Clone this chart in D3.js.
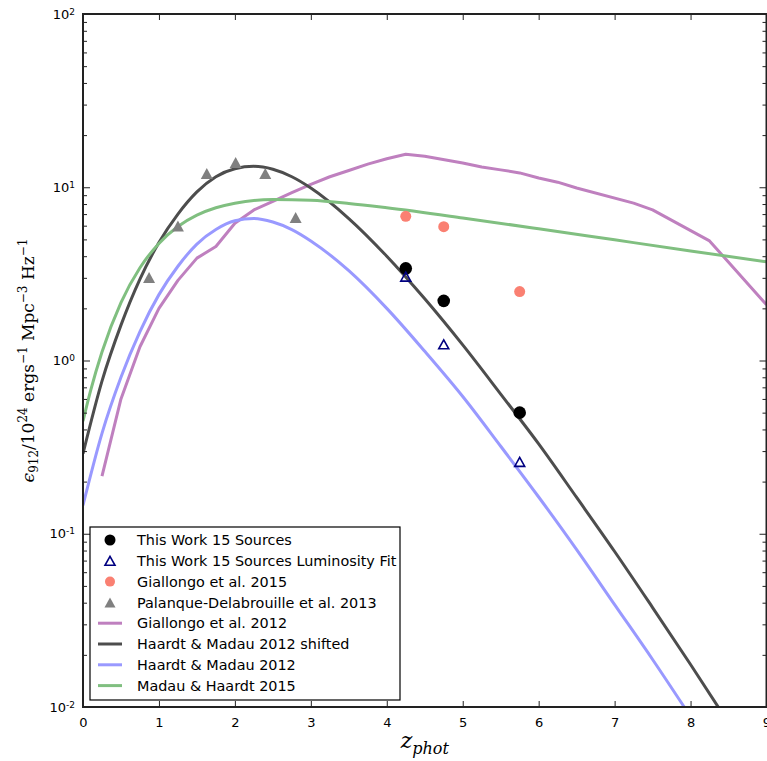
<!DOCTYPE html>
<html>
<head>
<meta charset="utf-8">
<script src="https://cdn.jsdelivr.net/npm/d3@7"></script>
<style>
body { margin: 0; background: #fff; }
svg { display: block; font-family: "DejaVu Sans", sans-serif; }
</style>
</head>
<body>
<svg id="chart" width="767" height="761"></svg>
<script>
// values, epsilon_912 in units of 1e24 erg/s/Mpc^3/Hz
const thisWorkZ = [4.25, 4.75, 5.75];
const thisWorkEps = [3.40, 2.21, 0.50];
const lumFitEps = [3.05, 1.24, 0.26];
const giallongo15Eps = [6.8, 5.92, 2.50];

const palanqueZ = [0.87, 1.25, 1.63, 2.01, 2.40, 2.80];
const palanqueEps = [3.01, 5.97, 12.0, 13.9, 12.0, 6.7];

const giallongo12Z = [0.25, 0.5, 0.75, 1.0, 1.25, 1.5, 1.75, 2.0, 2.25, 2.5, 2.75, 3.0, 3.25, 3.5, 3.75,
    4.0, 4.25, 4.5, 5.0, 5.25, 5.5, 5.75, 6.0, 6.25, 6.5, 7.25, 7.5, 8.25, 9.0];
const giallongo12Eps = [0.215, 0.60, 1.2, 2.0, 2.9, 3.9, 4.55, 6.2, 7.4, 8.3, 9.3, 10.4, 11.5, 12.5, 13.6,
    14.6, 15.5, 15.1, 13.8, 13.1, 12.6, 12.1, 11.3, 10.7, 9.9, 8.1, 7.4, 4.9, 2.1];

const hmZ = [0, 0.25, 0.5, 0.75, 1, 1.25, 1.5, 1.75, 2, 2.25, 2.5, 2.75, 3, 3.5, 4, 4.5, 5, 5.5, 6, 6.5, 7, 7.5, 8, 8.5];
const hmShiftedEps = [0.29, 0.76, 1.6, 2.95, 4.8, 7.0, 9.4, 11.5, 12.8, 13.2, 12.7, 11.5, 9.9, 6.6, 4.0, 2.27,
    1.23, 0.64, 0.33, 0.162, 0.079, 0.0375, 0.0176, 0.0081];
const hmEps = [0.146, 0.38, 0.80, 1.47, 2.4, 3.5, 4.7, 5.7, 6.4, 6.6, 6.3, 5.7, 4.9, 3.3, 2.0, 1.13,
    0.62, 0.32, 0.163, 0.081, 0.039, 0.0188, 0.0088, 0.0041];

const mhZ = [0, 0.1, 0.25, 0.5, 0.75, 1, 1.25, 1.5, 1.75, 2, 2.5, 3, 3.5, 4, 5, 6, 7, 8, 9];
const mhEps = [0.447, 0.67, 1.12, 2.16, 3.43, 4.74, 5.93, 6.90, 7.61, 8.09, 8.49, 8.40, 8.06, 7.61, 6.65,
    5.76, 4.97, 4.29, 3.71];

const xTicks = [0, 1, 2, 3, 4, 5, 6, 7, 8, 9];
const yTicks = [0.01, 0.1, 1, 10, 100];
const yTickExp = ["-2", "-1", "0", "1", "2"];

const legendLabels = ["This Work 15 Sources", "This Work 15 Sources Luminosity Fit", "Giallongo et al. 2015",
    "Palanque-Delabrouille et al. 2013", "Giallongo et al. 2012", "Haardt & Madau 2012 shifted",
    "Haardt & Madau 2012", "Madau & Haardt 2015"];

const svg = d3.select("#chart");
const box = {left: 83, right: 766.5, top: 14, bottom: 707};

const x = d3.scaleLinear().domain([0, 9]).range([box.left, box.right]);
const y = d3.scaleLog().domain([0.01, 100]).range([box.bottom, box.top]);

const zip = (zs, vs) => zs.map((z, i) => ({z: z, v: vs[i]}));

// triangle centred on its bounding box, like matplotlib's '^'
function tri(w, h) {
    return `M0,${-h/2}L${w/2},${h/2}L${-w/2},${h/2}Z`;
}

svg.append("defs").append("clipPath").attr("id", "plotClip")
    .append("rect")
    .attr("x", box.left).attr("y", box.top)
    .attr("width", box.right - box.left).attr("height", box.bottom - box.top);

const plot = svg.append("g").attr("clip-path", "url(#plotClip)");

// curves
const curves = [
    {data: zip(giallongo12Z, giallongo12Eps), color: "#bf80bf", curve: d3.curveLinear},
    {data: zip(hmZ, hmShiftedEps), color: "#4d4d4d", curve: d3.curveMonotoneX},
    {data: zip(hmZ, hmEps), color: "#9999ff", curve: d3.curveMonotoneX},
    {data: zip(mhZ, mhEps), color: "#80bf80", curve: d3.curveMonotoneX}
];
curves.forEach(c => {
    const line = d3.line().x(d => x(d.z)).y(d => y(d.v)).curve(c.curve);
    plot.append("path")
        .datum(c.data)
        .attr("d", line)
        .attr("fill", "none")
        .attr("stroke", c.color)
        .attr("stroke-width", 3)
        .attr("stroke-linejoin", "round");
});

// points
plot.selectAll("path.palanque")
    .data(zip(palanqueZ, palanqueEps))
    .enter().append("path")
    .attr("class", "palanque")
    .attr("d", tri(12, 11))
    .attr("transform", d => `translate(${x(d.z)},${y(d.v)})`)
    .attr("fill", "#808080");

plot.selectAll("circle.g15")
    .data(zip(thisWorkZ, giallongo15Eps))
    .enter().append("circle")
    .attr("class", "g15")
    .attr("cx", d => x(d.z)).attr("cy", d => y(d.v)).attr("r", 5.5)
    .attr("fill", "#fa8072");

plot.selectAll("circle.tw")
    .data(zip(thisWorkZ, thisWorkEps))
    .enter().append("circle")
    .attr("class", "tw")
    .attr("cx", d => x(d.z)).attr("cy", d => y(d.v)).attr("r", 6.3)
    .attr("fill", "#000");

plot.selectAll("path.fit")
    .data(zip(thisWorkZ, lumFitEps))
    .enter().append("path")
    .attr("class", "fit")
    .attr("d", tri(10, 9))
    .attr("transform", d => `translate(${x(d.z)},${y(d.v)})`)
    .attr("fill", "none")
    .attr("stroke", "#000080")
    .attr("stroke-width", 1.6);

// AXES (ticks point inward on all four sides)
const yMinor = [];
[-2, -1, 0, 1].forEach(k => d3.range(2, 10).forEach(m => yMinor.push(m * Math.pow(10, k))));

function styleAxis(g) {
    g.select(".domain").remove();
    g.selectAll(".tick line").attr("stroke", "#222").attr("stroke-width", 1);
    g.selectAll(".tick text").attr("fill", "#000").attr("font-size", 13)
        .attr("font-family", "DejaVu Sans, sans-serif");
}

svg.append("g")
    .attr("transform", `translate(0,${box.bottom})`)
    .call(d3.axisBottom(x).tickValues(xTicks).tickSize(-6).tickPadding(11).tickFormat(d3.format("d")))
    .call(styleAxis);
svg.append("g")
    .attr("transform", `translate(0,${box.top})`)
    .call(d3.axisTop(x).tickValues(xTicks).tickSize(-6).tickFormat(""))
    .call(styleAxis);

const axisL = svg.append("g")
    .attr("transform", `translate(${box.left},0)`)
    .call(d3.axisLeft(y).tickValues(yTicks).tickSize(-7).tickPadding(8).tickFormat(""))
    .call(styleAxis);
axisL.selectAll(".tick text").each(function(d, i) {
    const t = d3.select(this);
    t.append("tspan").text("10");
    t.append("tspan").attr("dy", "-0.45em").attr("font-size", 9).text(yTickExp[i]);
});
svg.append("g")
    .attr("transform", `translate(${box.left},0)`)
    .call(d3.axisLeft(y).tickValues(yMinor).tickSize(-4).tickFormat(""))
    .call(styleAxis);
svg.append("g")
    .attr("transform", `translate(${box.right},0)`)
    .call(d3.axisRight(y).tickValues(yTicks).tickSize(-7).tickFormat(""))
    .call(styleAxis);
svg.append("g")
    .attr("transform", `translate(${box.right},0)`)
    .call(d3.axisRight(y).tickValues(yMinor).tickSize(-4).tickFormat(""))
    .call(styleAxis);

svg.append("rect")
    .attr("x", box.left).attr("y", box.top)
    .attr("width", box.right - box.left).attr("height", box.bottom - box.top)
    .attr("fill", "none").attr("stroke", "#222").attr("stroke-width", 2);

// axis titles
const xt = svg.append("text")
    .attr("x", (box.left + box.right) / 2).attr("y", 748)
    .attr("text-anchor", "middle")
    .attr("font-family", "DejaVu Serif, serif").attr("font-style", "italic").attr("font-size", 22);
xt.append("tspan").text("z");
xt.append("tspan").attr("dy", 6).attr("font-size", 16).text("phot");

const yt = svg.append("text")
    .attr("transform", `translate(34,${(box.top + box.bottom) / 2}) rotate(-90)`)
    .attr("text-anchor", "middle")
    .attr("font-family", "DejaVu Serif, serif").attr("font-size", 17);
yt.append("tspan").attr("font-style", "italic").text("ϵ");
yt.append("tspan").attr("dy", 4).attr("font-size", 12).text("912");
yt.append("tspan").attr("dy", -4).text("/10");
yt.append("tspan").attr("dy", -7).attr("font-size", 12).text("24");
yt.append("tspan").attr("dy", 7).text(" ergs");
yt.append("tspan").attr("dy", -7).attr("font-size", 12).text("−1");
yt.append("tspan").attr("dy", 7).text(" Mpc");
yt.append("tspan").attr("dy", -7).attr("font-size", 12).text("−3");
yt.append("tspan").attr("dy", 7).text(" Hz");
yt.append("tspan").attr("dy", -7).attr("font-size", 12).text("−1");

// LEGEND
const leg = svg.append("g").attr("transform", "translate(90,527)");
leg.append("rect")
    .attr("width", 310).attr("height", 173)
    .attr("fill", "#fff").attr("stroke", "#000").attr("stroke-width", 1.2);

const rowY = i => 13 + i * 20.8;
const markerX = 20;
leg.append("circle").attr("cx", markerX).attr("cy", rowY(0)).attr("r", 5.5).attr("fill", "#000");
leg.append("path").attr("d", tri(10, 9)).attr("transform", `translate(${markerX},${rowY(1)})`)
    .attr("fill", "none").attr("stroke", "#000080").attr("stroke-width", 1.6);
leg.append("circle").attr("cx", markerX).attr("cy", rowY(2)).attr("r", 5).attr("fill", "#fa8072");
leg.append("path").attr("d", tri(11, 10)).attr("transform", `translate(${markerX},${rowY(3)})`)
    .attr("fill", "#808080");
curves.forEach((c, i) => {
    leg.append("line")
        .attr("x1", 8).attr("x2", 32)
        .attr("y1", rowY(4 + i)).attr("y2", rowY(4 + i))
        .attr("stroke", c.color).attr("stroke-width", 3);
});
leg.selectAll("text")
    .data(legendLabels)
    .enter().append("text")
    .attr("x", 47).attr("y", (d, i) => rowY(i))
    .attr("dy", "0.36em")
    .attr("font-size", 14.4)
    .text(d => d);
</script>
</body>
</html>
